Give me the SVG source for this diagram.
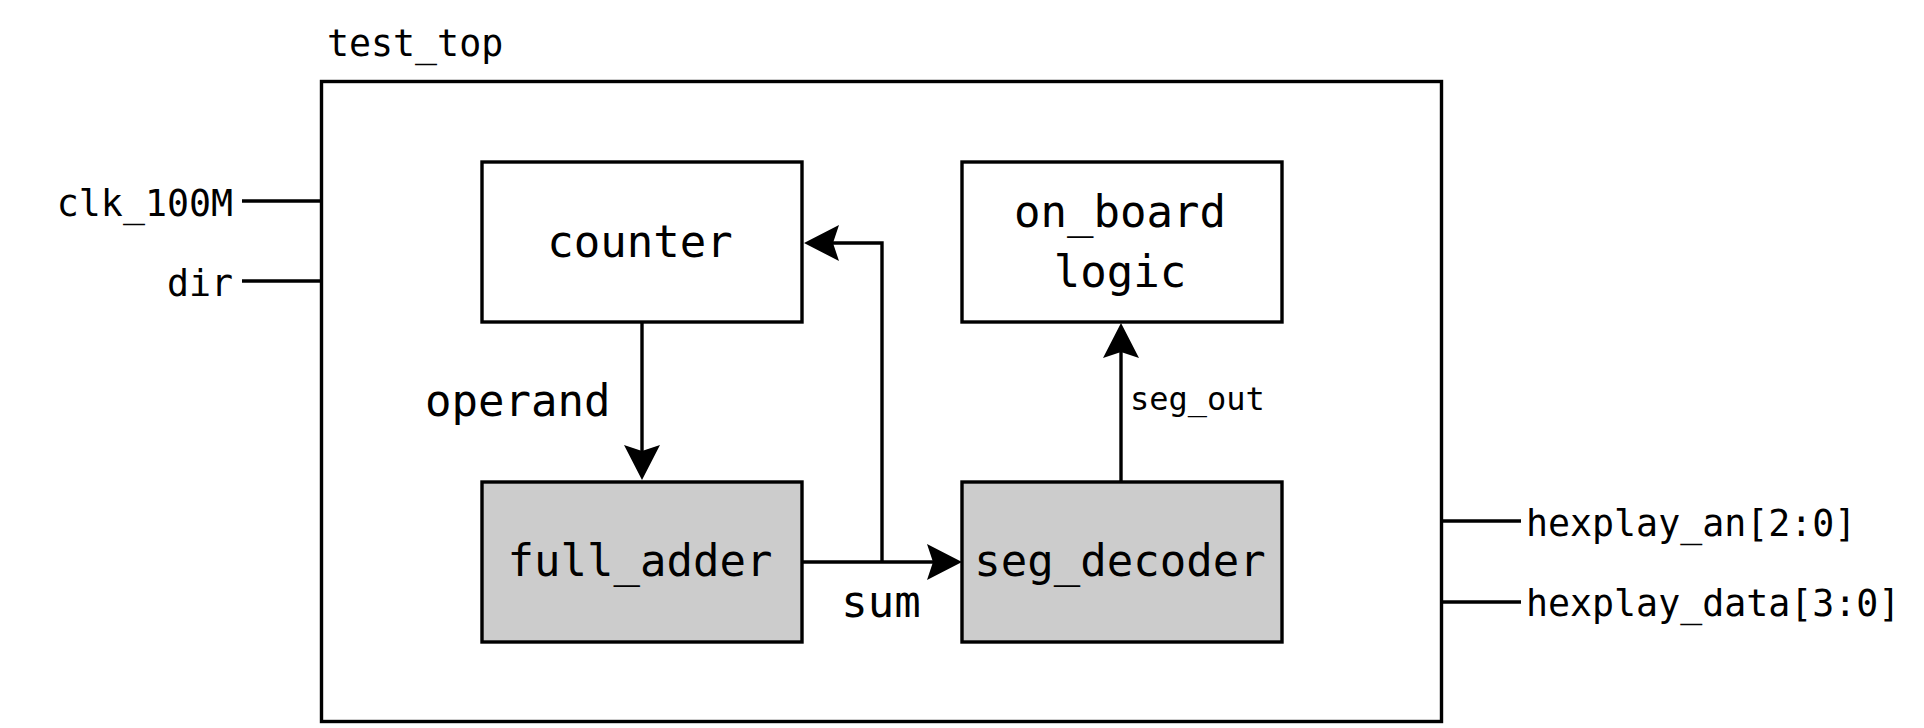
<svg xmlns="http://www.w3.org/2000/svg" width="1924" height="728" viewBox="0 0 1924 728">
  <style>
    .box { fill: #ffffff; stroke: #000000; stroke-width: 3.4; }
    .gray { fill: #cccccc; }
    .wire { fill: none; stroke: #000000; stroke-width: 3.4; }
    .t { font-family: "DejaVu Sans Mono", "Liberation Mono", monospace; fill: #000000; }
    .big { font-size: 44px; }
    .mid { font-size: 36.6px; }
    .small { font-size: 32px; }
  </style>
  <defs>
    <marker id="arrow" markerUnits="userSpaceOnUse" markerWidth="40" markerHeight="40" refX="30" refY="18" orient="auto" overflow="visible">
      <path d="M36,18 L1,0 L7,18 L1,36 Z" fill="#000000"/>
    </marker>
  </defs>
  <rect width="1924" height="728" fill="#ffffff"/>

  <g id="test_top">
    <rect class="box" x="321.5" y="81.5" width="1120" height="640"/>
    <text class="t mid" x="327" y="56">test_top</text>
  </g>

  <g id="port_clk">
    <text class="t mid" x="233" y="216" text-anchor="end">clk_100M</text>
  </g>
  <g id="port_dir">
    <text class="t mid" x="233" y="296" text-anchor="end">dir</text>
  </g>
  <g id="port_hexplay_an">
    <text class="t mid" x="1526" y="536">hexplay_an[2:0]</text>
  </g>
  <g id="port_hexplay_data">
    <text class="t mid" x="1526" y="616">hexplay_data[3:0]</text>
  </g>

  <g id="counter">
    <rect class="box" x="482" y="162" width="320" height="160"/>
    <text class="t big" x="640" y="257" text-anchor="middle">counter</text>
  </g>
  <g id="on_board_logic">
    <rect class="box" x="962" y="162" width="320" height="160"/>
    <text class="t big" x="1120" y="227" text-anchor="middle">on_board</text>
    <text class="t big" x="1120" y="287" text-anchor="middle">logic</text>
  </g>
  <g id="full_adder">
    <rect class="box gray" x="482" y="482" width="320" height="160"/>
    <text class="t big" x="640" y="576" text-anchor="middle">full_adder</text>
  </g>
  <g id="seg_decoder">
    <rect class="box gray" x="962" y="482" width="320" height="160"/>
    <text class="t big" x="1120" y="576" text-anchor="middle">seg_decoder</text>
  </g>

  <g id="connectors">
    <path class="wire" d="M242,201 L321,201"/>
    <path class="wire" d="M242,281 L321,281"/>
    <path class="wire" d="M1441,521 L1521,521"/>
    <path class="wire" d="M1441,602 L1521,602"/>
    <path class="wire" d="M642,322 L642,474" marker-end="url(#arrow)"/>
    <path class="wire" d="M802,562 L956,562" marker-end="url(#arrow)"/>
    <path class="wire" d="M882,562 L882,243 L810,243" marker-end="url(#arrow)"/>
    <path class="wire" d="M1121,482 L1121,329" marker-end="url(#arrow)"/>
    <text class="t big" x="425" y="416">operand</text>
    <text class="t big" x="881" y="617" text-anchor="middle">sum</text>
    <text class="t small" x="1130" y="410">seg_out</text>
  </g>
</svg>
